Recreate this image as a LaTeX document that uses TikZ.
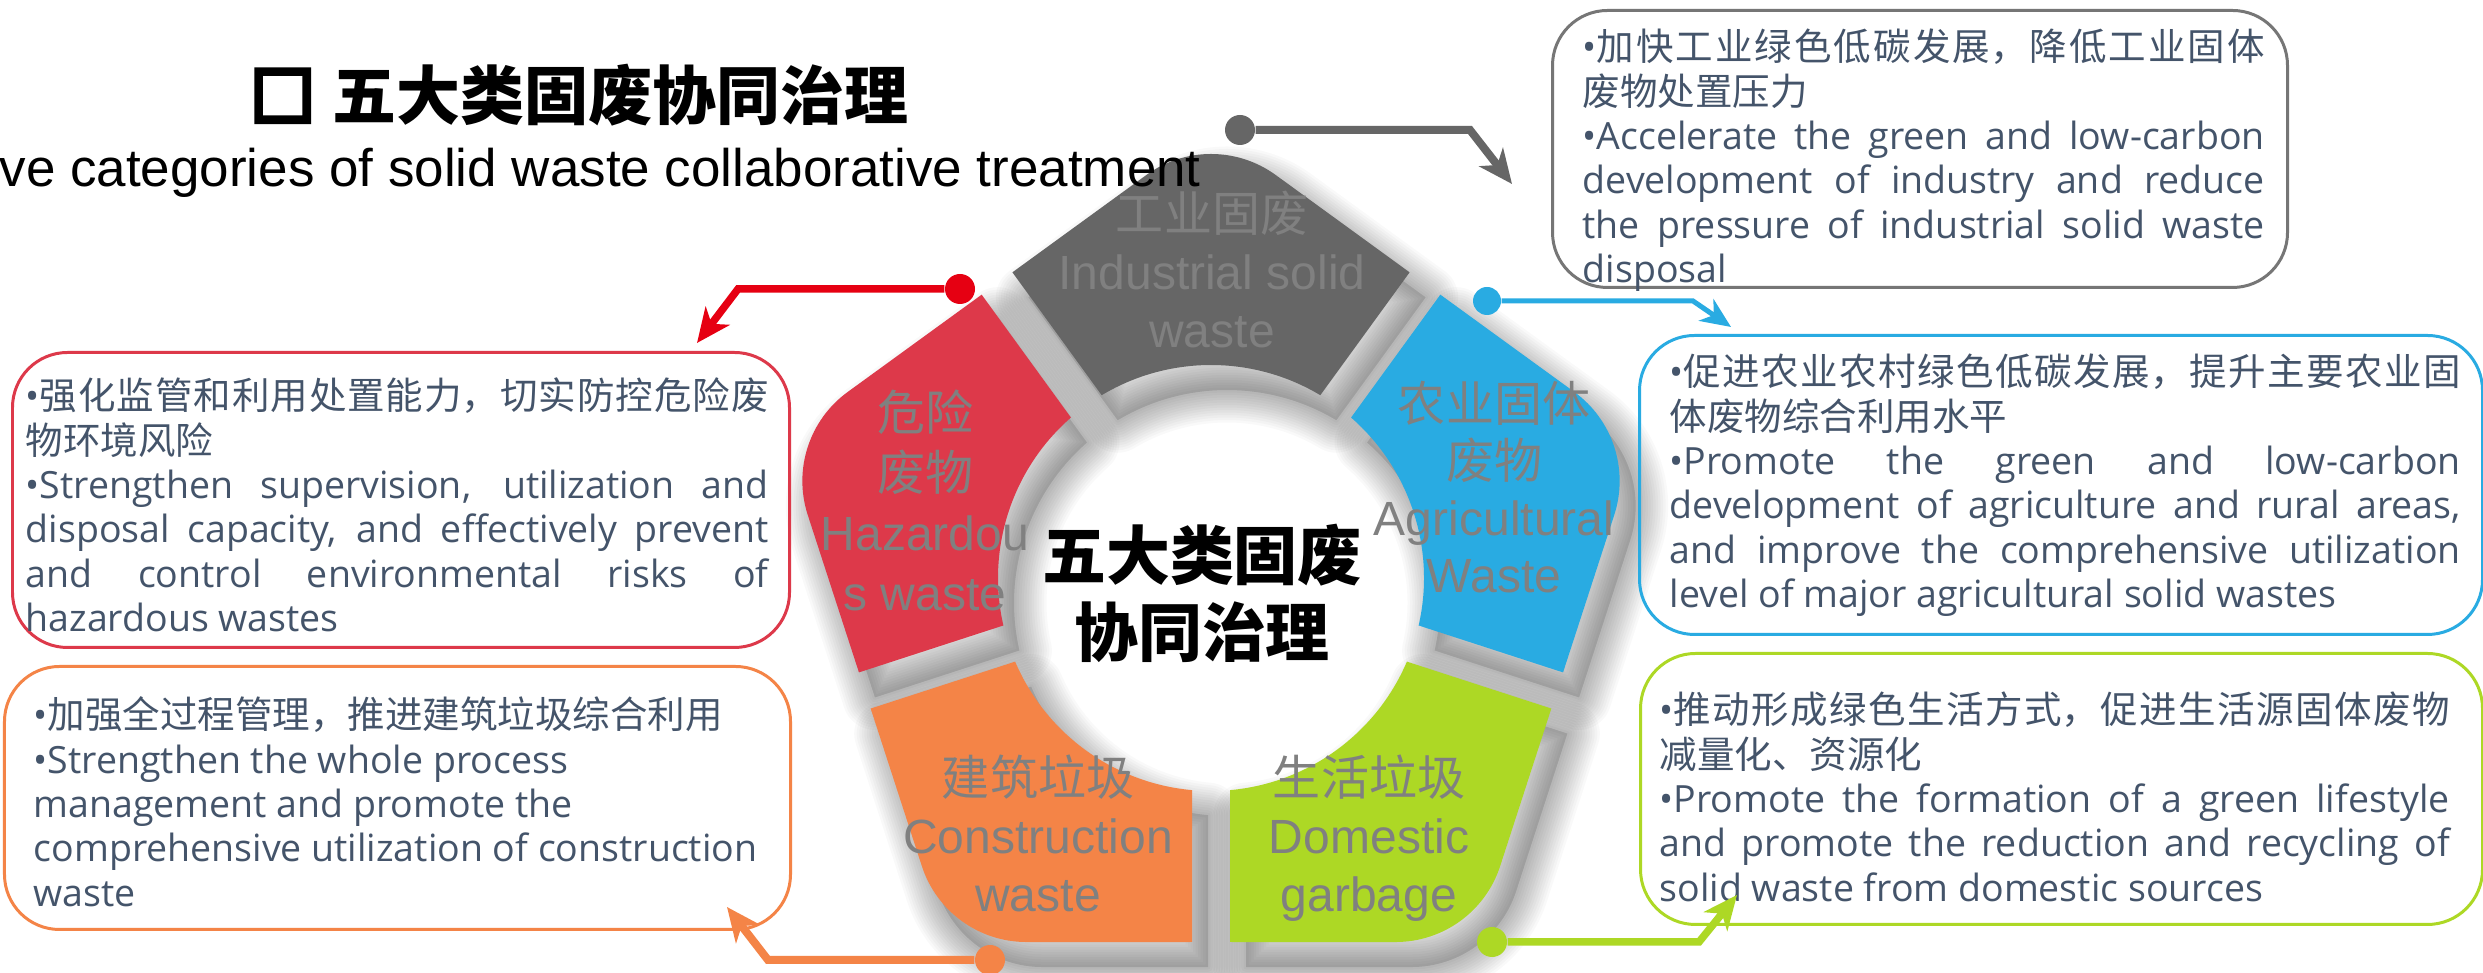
\documentclass[tikz,border=0pt]{standalone}
\usepackage{fontspec}
\setmainfont{Liberation Sans}
\newfontfamily\cjk{Noto Sans CJK SC}
\newfontfamily\latinf{Open Sans}
\usetikzlibrary{calc,arrows.meta}
\XeTeXlinebreaklocale "zh"
\XeTeXlinebreakskip=0pt plus 1pt
\definecolor{pgray}{HTML}{666666}
\definecolor{pred}{HTML}{DD394A}
\definecolor{pblue}{HTML}{29ABE2}
\definecolor{porange}{HTML}{F48447}
\definecolor{pgreen}{HTML}{ADD825}
\definecolor{cred}{HTML}{E60012}
\definecolor{labelgray}{HTML}{808080}
\definecolor{boxtext}{HTML}{44546A}
\definecolor{gborder}{HTML}{767676}
% one piece of the ring, centred on the pentagon vertex at angle #1
\newcommand\piecepath[1]{($(#1+36:3.64)+(#1-54:0.19)$) -- ($(#1:3.14)+(#1+36:1.1)$) arc[start angle=#1+36, end angle=#1-36, radius=1.1] -- ($(#1-36:3.64)+(#1+54:0.19)$) -- (#1-30.88:2.13) arc[start angle=#1-30.88, end angle=#1+30.88, radius=2.13] -- cycle}
\newcommand\pieceshadow[1]{%
  \fill[black, fill opacity=0.12] \piecepath{#1};
  \foreach \w in {0.05,0.1,...,0.7}{\draw[black, draw opacity=0.024, line width=\w cm, line join=round] \piecepath{#1};}}
\newcommand\bfnt{\latinf\fontsize{10.67pt}{12.6pt}\selectfont\tolerance=10000\hbadness=10000\relax}
\newcommand\thicktext[1]{\special{pdf:literal direct 2 Tr 1.6 w}#1\special{pdf:literal direct 0 Tr 1 w}}
\tikzset{
  plabel/.style={anchor=base, inner sep=0, text=labelgray},
  infobox/.style={draw=#1, rounded corners=0.55cm, line width=0.85pt, anchor=north west, inner sep=0},
  boxtxt/.style={anchor=base west, inner sep=0, text=boxtext},
  condot/.style={circle, fill=#1, inner sep=0, minimum size=0.3cm},
  conn/.style={draw=#1, line width=0.075cm, -{Stealth[length=0.34cm,width=0.3cm,inset=0.1cm]}}
}
\begin{document}
\begin{tikzpicture}
\useasboundingbox (0,0) rectangle (24.83,9.73);
\fill[white] (0,0) rectangle (24.83,9.73);

% ring of five pieces
\begin{scope}[shift={(12.11,3.95)}]
  \begin{scope}[shift={(0.16,-0.25)}]
    \pieceshadow{90}
    \pieceshadow{162}
    \pieceshadow{234}
    \pieceshadow{306}
    \pieceshadow{18}
  \end{scope}
  \fill[pgray] \piecepath{90};
  \fill[pred] \piecepath{162};
  \fill[porange] \piecepath{234};
  \fill[pgreen] \piecepath{306};
  \fill[pblue] \piecepath{18};
\end{scope}

% title
\node[anchor=base west, inner sep=0] (title) at (2.50,8.53) {\fontsize{18.2pt}{20pt}\selectfont{\cjk\bfseries\thicktext{□}} {\cjk\bfseries 五大类固废协同治理}};
\node[anchor=base west, inner sep=0] (subtitle) at (-0.01,7.86) {\fontsize{15.07pt}{18pt}\selectfont ve categories of solid waste collaborative treatment};

% piece labels
\node[plabel] (lgray) at (12.12,7.41) {\parbox[t]{5cm}{\centering\fontsize{13.66pt}{0.58cm}\selectfont{\cjk 工业固废}\\Industrial solid\\waste}};
\node[plabel] (lred) at (9.25,5.42) {\parbox[t]{5cm}{\centering\fontsize{13.66pt}{0.6cm}\selectfont{\cjk 危险}\\{\cjk 废物}\\Hazardou\\s waste}};
\node[plabel] (lblue) at (14.94,5.51) {\parbox[t]{5cm}{\centering\fontsize{13.66pt}{0.57cm}\selectfont{\cjk 农业固体}\\{\cjk 废物}\\Agricultural\\Waste}};
\node[plabel] (lorange) at (10.38,1.77) {\parbox[t]{5cm}{\centering\fontsize{13.66pt}{0.58cm}\selectfont{\cjk 建筑垃圾}\\Construction\\waste}};
\node[plabel] (lgreen) at (13.69,1.77) {\parbox[t]{5cm}{\centering\fontsize{13.66pt}{0.58cm}\selectfont{\cjk 生活垃圾}\\Domestic\\garbage}};

% centre text
\node[anchor=base, inner sep=0] (centre) at (12.02,3.93) {\parbox[t]{5cm}{\centering\cjk\bfseries\fontsize{18.2pt}{0.77cm}\selectfont 五大类固废\\协同治理}};

% boxes
\node[infobox=gborder, minimum width=7.35cm, minimum height=2.77cm] (gbox) at (15.51,9.64) {};
\node[infobox=pblue, minimum width=8.43cm, minimum height=2.99cm] (bbox) at (16.38,6.39) {};
\node[infobox=pgreen, minimum width=8.42cm, minimum height=2.71cm] (grbox) at (16.39,3.21) {};
\node[infobox=pred, minimum width=7.77cm, minimum height=2.95cm] (rbox) at (0.11,6.22) {};
\node[infobox=porange, minimum width=7.86cm, minimum height=2.63cm] (obox) at (0.03,3.08) {};

\node[boxtxt] (gtext) at (15.82,9.12) {\parbox[t]{6.82cm}{\bfnt •{\cjk 加快工业绿色低碳发展，降低工业固体\linebreak 废物处置压力}\par
•Accelerate the green and low-carbon\linebreak development of industry and reduce\linebreak the pressure of industrial solid waste\linebreak disposal}};
\node[boxtxt] (btext) at (16.69,5.87) {\parbox[t]{7.91cm}{\bfnt •{\cjk 促进农业农村绿色低碳发展，提升主要农业固\linebreak 体废物综合利用水平}\par
•Promote the green and low-carbon\linebreak development of agriculture and rural areas,\linebreak and improve the comprehensive utilization\linebreak level of major agricultural solid wastes}};
\node[boxtxt] (grtext) at (16.59,2.49) {\parbox[t]{7.90cm}{\bfnt •{\cjk 推动形成绿色生活方式，促进生活源固体废物\linebreak 减量化、资源化}\par
•Promote the formation of a green lifestyle\linebreak and promote the reduction and recycling of\linebreak solid waste from domestic sources}};
\node[boxtxt] (rtext) at (0.25,5.63) {\parbox[t]{7.43cm}{\bfnt •{\cjk 强化监管和利用处置能力，切实防控危险废\linebreak 物环境风险}\par
•Strengthen supervision, utilization and\linebreak disposal capacity, and effectively prevent\linebreak and control environmental risks of\linebreak hazardous wastes}};
\node[boxtxt] (otext) at (0.33,2.44) {\parbox[t]{7.6cm}{\bfnt\raggedright •{\cjk 加强全过程管理，推进建筑垃圾综合利用}\\
•Strengthen the whole process\\management and promote the\\comprehensive utilization of construction\\waste}};

% connectors
\node[condot=pgray] (gdot) at (12.40,8.43) {};
\coordinate (gbend) at (14.70,8.43);
\coordinate (gtip) at (15.12,7.89);
\draw[conn=pgray, line width=0.08cm] (gdot) -- (gbend) -- (gtip);

\node[condot=cred] (rdot) at (9.60,6.84) {};
\coordinate (rbend) at (7.38,6.84);
\coordinate (rtip) at (6.97,6.30);
\draw[conn=cred] (rdot) -- (rbend) -- (rtip);

\node[condot=pblue, minimum size=0.28cm] (bdot) at (14.87,6.72) {};
\coordinate (bbend) at (16.93,6.72);
\coordinate (btip) at (17.31,6.46);
\draw[conn=pblue, line width=0.05cm, -{Stealth[length=0.3cm,width=0.26cm,inset=0.09cm]}] (bdot) -- (bbend) -- (btip);

\node[condot=porange] (odot) at (9.90,0.13) {};
\coordinate (obend) at (7.68,0.13);
\coordinate (otip) at (7.27,0.66);
\draw[conn=porange, line width=0.08cm] (odot) -- (obend) -- (otip);

\node[condot=pgreen] (grdot) at (14.92,0.31) {};
\coordinate (grbend) at (16.99,0.31);
\coordinate (grtip) at (17.37,0.78);
\draw[conn=pgreen] (grdot) -- (grbend) -- (grtip);
\end{tikzpicture}
\end{document}
